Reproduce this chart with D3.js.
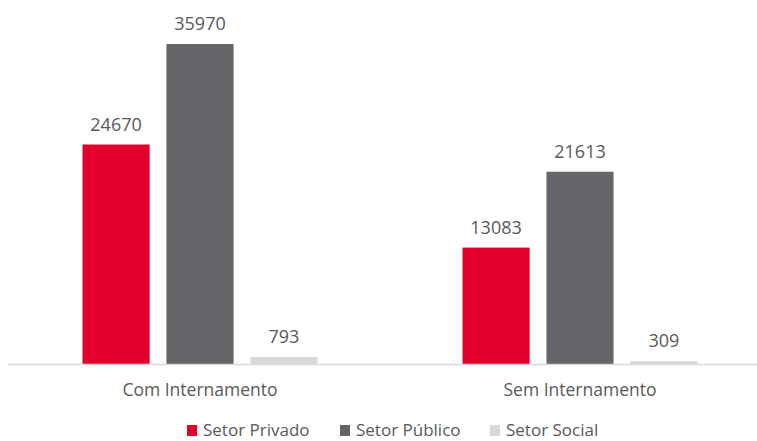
<!DOCTYPE html>
<html>
<head>
<meta charset="utf-8">
<script src="https://cdn.jsdelivr.net/npm/d3@7"></script>
<style>
  body { margin: 0; background: #fff; }
  text { font-family: "Open Sans", "Noto Sans", sans-serif; fill: #595959; }
</style>
</head>
<body>
<div id="chart"></div>
<script>
// data
var categories = ["Com Internamento", "Sem Internamento"];
var seriesNames = ["Setor Privado", "Setor Público", "Setor Social"];
var privado = [24670, 13083];
var publico = [35970, 21613];
var social = [793, 309];
var colors = ["#e4002b", "#636569", "#d9d9d9"];

var width = 757, height = 441;
var baseY = 364;

var svg = d3.select("#chart").append("svg")
    .attr("width", width)
    .attr("height", height);

var x0 = d3.scaleBand()
    .domain(categories)
    .range([10, 770])
    .paddingInner(0)
    .paddingOuter(0);

var x1 = d3.scaleBand()
    .domain(seriesNames)
    .range([72.5, 307.5])
    .paddingInner(0.2)
    .paddingOuter(0);

var y = d3.scaleLinear()
    .domain([0, 35970])
    .range([baseY, 44]);

var values = [privado, publico, social];

var groups = svg.selectAll("g.cat")
    .data(categories)
    .enter().append("g")
    .attr("class", "cat")
    .attr("transform", function(d) { return "translate(" + x0(d) + ",0)"; });

groups.selectAll("rect")
    .data(function(d, i) { return seriesNames.map(function(s, j) { return {s: s, v: values[j][i], j: j}; }); })
    .enter().append("rect")
    .attr("x", function(d) { return x1(d.s); })
    .attr("width", x1.bandwidth())
    .attr("y", function(d) { return y(d.v); })
    .attr("height", function(d) { return baseY - y(d.v); })
    .attr("fill", function(d) { return colors[d.j]; });

groups.selectAll("text.val")
    .data(function(d, i) { return seriesNames.map(function(s, j) { return {s: s, v: values[j][i]}; }); })
    .enter().append("text")
    .attr("class", "val")
    .attr("x", function(d) { return x1(d.s) + x1.bandwidth() / 2; })
    .attr("y", function(d) { return y(d.v) - 14; })
    .attr("text-anchor", "middle")
    .style("font-size", "18px")
    .text(function(d) { return d.v; });

// axis line
svg.append("line")
    .attr("x1", 8).attr("x2", width)
    .attr("y1", baseY + 0.5).attr("y2", baseY + 0.5)
    .attr("stroke", "#d9d9d9")
    .attr("stroke-width", 1.5);

var xAxis = d3.axisBottom(x0).tickSize(0).tickPadding(0);
var ax = svg.append("g")
    .attr("transform", "translate(0," + baseY + ")")
    .call(xAxis);
ax.select(".domain").remove();
ax.selectAll("text")
    .attr("dy", 0)
    .attr("y", 32)
    .style("font-size", "17.5px")
    .style("font-family", "'Open Sans', sans-serif")
    .style("fill", "#595959");

// legend
var legendX = [187, 340, 490];
var legend = svg.selectAll("g.leg")
    .data(seriesNames)
    .enter().append("g")
    .attr("class", "leg")
    .attr("transform", function(d, i) { return "translate(" + legendX[i] + ",425)"; });
legend.append("rect")
    .attr("width", 10).attr("height", 11)
    .attr("fill", function(d, i) { return colors[i]; });
legend.append("text")
    .attr("x", 16).attr("y", 11)
    .style("font-size", "17px")
    .text(function(d) { return d; });
</script>
</body>
</html>
